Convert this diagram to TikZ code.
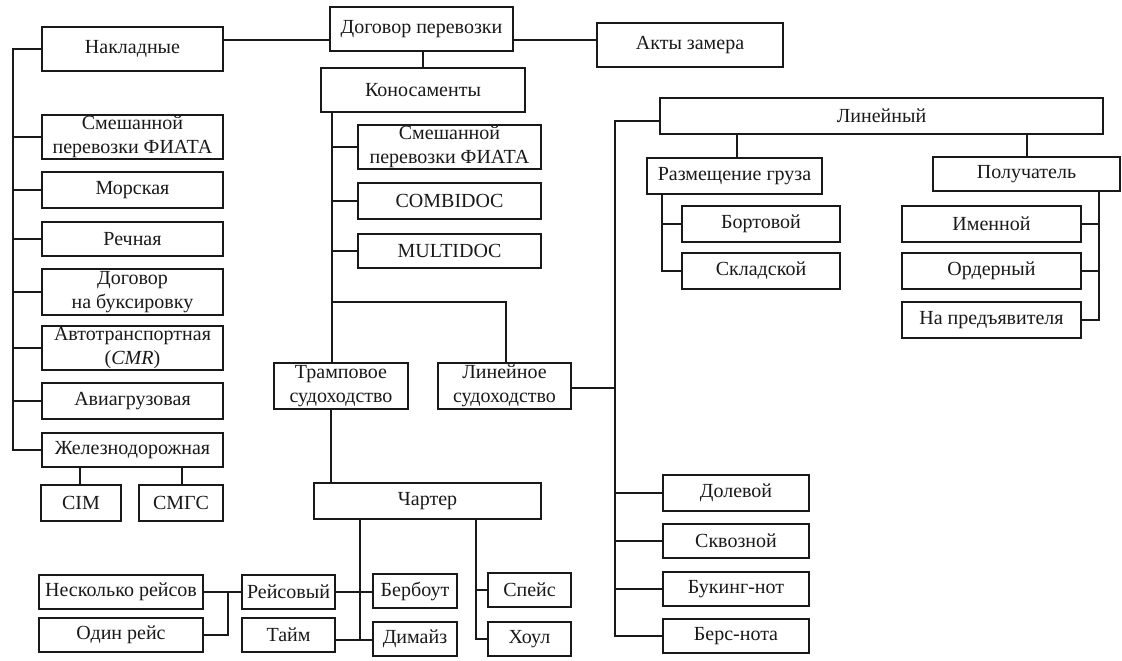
\documentclass[tikz,border=0pt]{standalone}
\usepackage{fontspec}
\setmainfont{Liberation Serif}
\begin{document}
\begin{tikzpicture}[x=0.5pt,y=-0.5pt,
  box/.style={draw=ink, line width=0.8pt, inner sep=0pt, align=center,
    font=\fontsize{10}{12}\selectfont, text=ink},
  link/.style={draw=ink, line width=0.8pt}]
\definecolor{ink}{RGB}{25,25,25}
\useasboundingbox (0,0) rectangle (1122,660);
% box by its corner coordinates (x1,y1,x2,y2)
\newcommand\bx[6]{\node[box, minimum width={(#4-#2)*0.5pt},
  minimum height={(#5-#3)*0.5pt}] (#1) at ({(#2+#4)/2},{(#3+#5)/2}) {#6};}

% top row
\bx{nak}{42}{27}{223}{71}{Накладные}
\bx{dog}{330}{7}{513}{51}{Договор перевозки}
\bx{akt}{597}{23}{783}{67}{Акты замера}
\bx{kon}{321}{68}{525}{112}{Коносаменты}

% waybills
\bx{fa}{42}{115}{223}{159}{Смешанной\\перевозки ФИАТА}
\bx{mor}{42}{172}{223}{208}{Морская}
\bx{rech}{42}{222}{223}{256}{Речная}
\bx{buks}{42}{269}{223}{315}{Договор\\на буксировку}
\bx{avto}{42}{326}{223}{370}{Автотранспортная\\(\textit{CMR})}
\bx{avia}{42}{383}{223}{419}{Авиагрузовая}
\bx{zhel}{42}{433}{223}{467}{Железнодорожная}
\bx{cim}{41}{485}{121}{521}{CIM}
\bx{smgs}{139}{485}{223}{521}{СМГС}

% bills of lading
\bx{fb}{358}{125}{541}{169}{Смешанной\\перевозки ФИАТА}
\bx{comb}{358}{183}{541}{219}{COMBIDOC}
\bx{mult}{358}{234}{541}{268}{MULTIDOC}
\bx{tramp}{274}{363}{408}{409}{Трамповое\\судоходство}
\bx{linsud}{438}{363}{571}{409}{Линейное\\судоходство}

% charter
\bx{chart}{314}{483}{541}{519}{Чартер}
\bx{nesk}{39}{575}{203}{609}{Несколько рейсов}
\bx{odin}{39}{618}{203}{652}{Один рейс}
\bx{reis}{242}{575}{335}{609}{Рейсовый}
\bx{taim}{242}{618}{335}{652}{Тайм}
\bx{berb}{373}{574}{457}{608}{Бербоут}
\bx{dim}{373}{622}{457}{656}{Димайз}
\bx{speis}{488}{573}{571}{607}{Спейс}
\bx{houl}{488}{622}{571}{656}{Хоул}

% liner
\bx{lin}{660}{98}{1103}{134}{Линейный}
\bx{razm}{647}{158}{822}{194}{Размещение груза}
\bx{pol}{933}{157}{1120}{191}{Получатель}
\bx{bort}{682}{206}{840}{242}{Бортовой}
\bx{sklad}{682}{253}{840}{289}{Складской}
\bx{imen}{902}{206}{1081}{242}{Именной}
\bx{order}{902}{253}{1081}{289}{Ордерный}
\bx{pred}{902}{302}{1081}{338}{На предъявителя}
\bx{dol}{663}{475}{809}{511}{Долевой}
\bx{skv}{663}{524}{809}{558}{Сквозной}
\bx{buk}{663}{572}{809}{606}{Букинг-нот}
\bx{bers}{663}{619}{809}{653}{Берс-нота}

% trunk lines
\coordinate (lt) at (13,0);
\coordinate (kt) at (332,0);
\coordinate (rt) at (615,0);
\coordinate (ct) at (360,0);
\coordinate (st) at (476,0);
\coordinate (jt) at (228,0);
\coordinate (pt) at (1099,0);
\coordinate (bt) at (662,0);

% contract level
\draw[link] (nak.east |- 0,40) -- (dog.west |- 0,40);
\draw[link] (dog.east |- 0,40) -- (akt.west |- 0,40);
\draw[link] (dog.south -| 423,0) -- (kon.north -| 423,0);

% waybills trunk
\draw[link] (nak.west) -- (nak.west -| lt) -- (zhel.west -| lt) -- (zhel.west);
\foreach \n in {fa,mor,rech,buks,avto,avia}
  \draw[link] (\n.west) -- (\n.west -| lt);
\draw[link] (zhel.south -| 80,0) -- (cim.north -| 80,0);
\draw[link] (zhel.south -| 182,0) -- (smgs.north -| 182,0);

% bills of lading trunk
\draw[link] (kon.south -| kt) -- (tramp.north -| kt);
\foreach \n in {fb,comb,mult}
  \draw[link] (\n.west) -- (\n.west -| kt);
\draw[link] (kt |- 0,302) -- (506,302) -- (linsud.north -| 506,0);
\draw[link] (tramp.south -| 331,0) -- (chart.north -| 331,0);

% liner bill trunk
\draw[link] (linsud.east |- 0,388) -- (rt |- 0,388);
\draw[link] (lin.west |- 0,121) -- (rt |- 0,121) -- (bers.west -| rt) -- (bers.west);
\foreach \n in {dol,skv,buk}
  \draw[link] (\n.west) -- (\n.west -| rt);
\draw[link] (lin.south -| 737,0) -- (razm.north -| 737,0);
\draw[link] (lin.south -| 1027,0) -- (pol.north -| 1027,0);
\draw[link] (razm.south -| bt) -- (sklad.west -| bt) -- (sklad.west);
\draw[link] (bort.west) -- (bort.west -| bt);
\draw[link] (pol.south -| pt) -- (pred.east -| pt) -- (pred.east);
\foreach \n in {imen,order}
  \draw[link] (\n.east) -- (\n.east -| pt);

% charter trunks
\draw[link] (chart.south -| ct) -- (ct |- 0,640);
\draw[link] (reis.east) -- (berb.west |- reis.east);
\draw[link] (taim.east |- 0,640) -- (dim.west |- 0,640);
\draw[link] (chart.south -| st) -- (st |- houl.west) -- (houl.west);
\draw[link] (speis.west) -- (speis.west -| st);
\draw[link] (nesk.east) -- (reis.west);
\draw[link] (jt |- nesk.east) -- (jt |- odin.east) -- (odin.east);
\end{tikzpicture}
\end{document}
